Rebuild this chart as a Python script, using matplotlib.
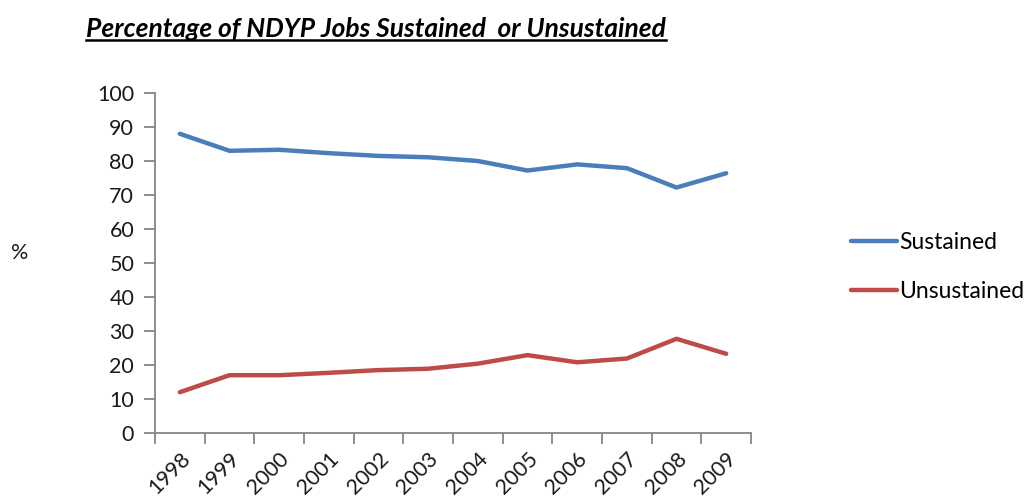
import matplotlib
matplotlib.use("Agg")
import matplotlib.pyplot as plt
import numpy as np

years = ['1998', '1999', '2000', '2001', '2002', '2003',
         '2004', '2005', '2006', '2007', '2008', '2009']
sustained = [88.0, 83.0, 83.3, 82.3, 81.5, 81.1, 80.0, 77.2, 79.0, 77.9, 72.2, 76.4]
unsustained = [12.0, 17.0, 17.0, 17.7, 18.5, 18.9, 20.4, 22.9, 20.8, 21.9, 27.7, 23.3]

plt.rcParams['font.family'] = ['Lato', 'DejaVu Sans']

fig = plt.figure(figsize=(10.26, 5.01), dpi=100)
ax = fig.add_axes([155 / 1026, 68 / 501, 596 / 1026, 340 / 501])

x = np.arange(len(years))
ax.plot(x, sustained, color='#4a7ebb', lw=3.2, label='Sustained', solid_capstyle='round')
ax.plot(x, unsustained, color='#be4b48', lw=3.2, label='Unsustained', solid_capstyle='round')

ax.set_xlim(-0.5, len(years) - 0.5)
ax.set_ylim(0, 100)
ax.set_yticks(range(0, 101, 10))

# category axis: ticks between categories, labels at centres
ax.set_xticks(np.arange(-0.5, len(years)), minor=False)
ax.set_xticklabels([])
ax.set_xticks(x, minor=True)
ax.set_xticklabels(years, minor=True, rotation=45, ha='right', va='top',
                   rotation_mode='anchor', fontsize=15.5, color='#1a1a1a')
ax.tick_params(axis='x', which='minor', length=0, pad=11)
ax.tick_params(axis='x', which='major', length=8, width=1.3, color='#868686')
ax.tick_params(axis='y', length=8, width=1.3, color='#868686', labelsize=15.5,
               labelcolor='#1a1a1a', pad=7)

for s in ['top', 'right']:
    ax.spines[s].set_visible(False)
for s in ['left', 'bottom']:
    ax.spines[s].set_color('#868686')
    ax.spines[s].set_linewidth(1.3)

fig.text(20 / 1026, 1 - 253 / 501, '%', fontsize=15.5, ha='center', va='center', color='#1a1a1a')

ax.legend(loc='center left', bbox_to_anchor=(840 / 1026, 1 - 267 / 501),
          bbox_transform=fig.transFigure, frameon=False, fontsize=16.5,
          handlelength=2.0, handletextpad=0.08, labelspacing=1.25, borderpad=0)

title = fig.text(376 / 1026, 1 - 29 / 501,
                 'Percentage of NDYP Jobs Sustained  or Unsustained',
                 fontsize=19, fontweight='bold', fontstyle='italic',
                 ha='center', va='center', color='black')

# underline the title
fig.canvas.draw()
bb = title.get_window_extent().transformed(fig.transFigure.inverted())
fig.add_artist(plt.Line2D([bb.x0, bb.x1], [bb.y0 + 0.002, bb.y0 + 0.002],
                          transform=fig.transFigure, color='black', lw=1.8))

fig.savefig('out.png', dpi=100)
